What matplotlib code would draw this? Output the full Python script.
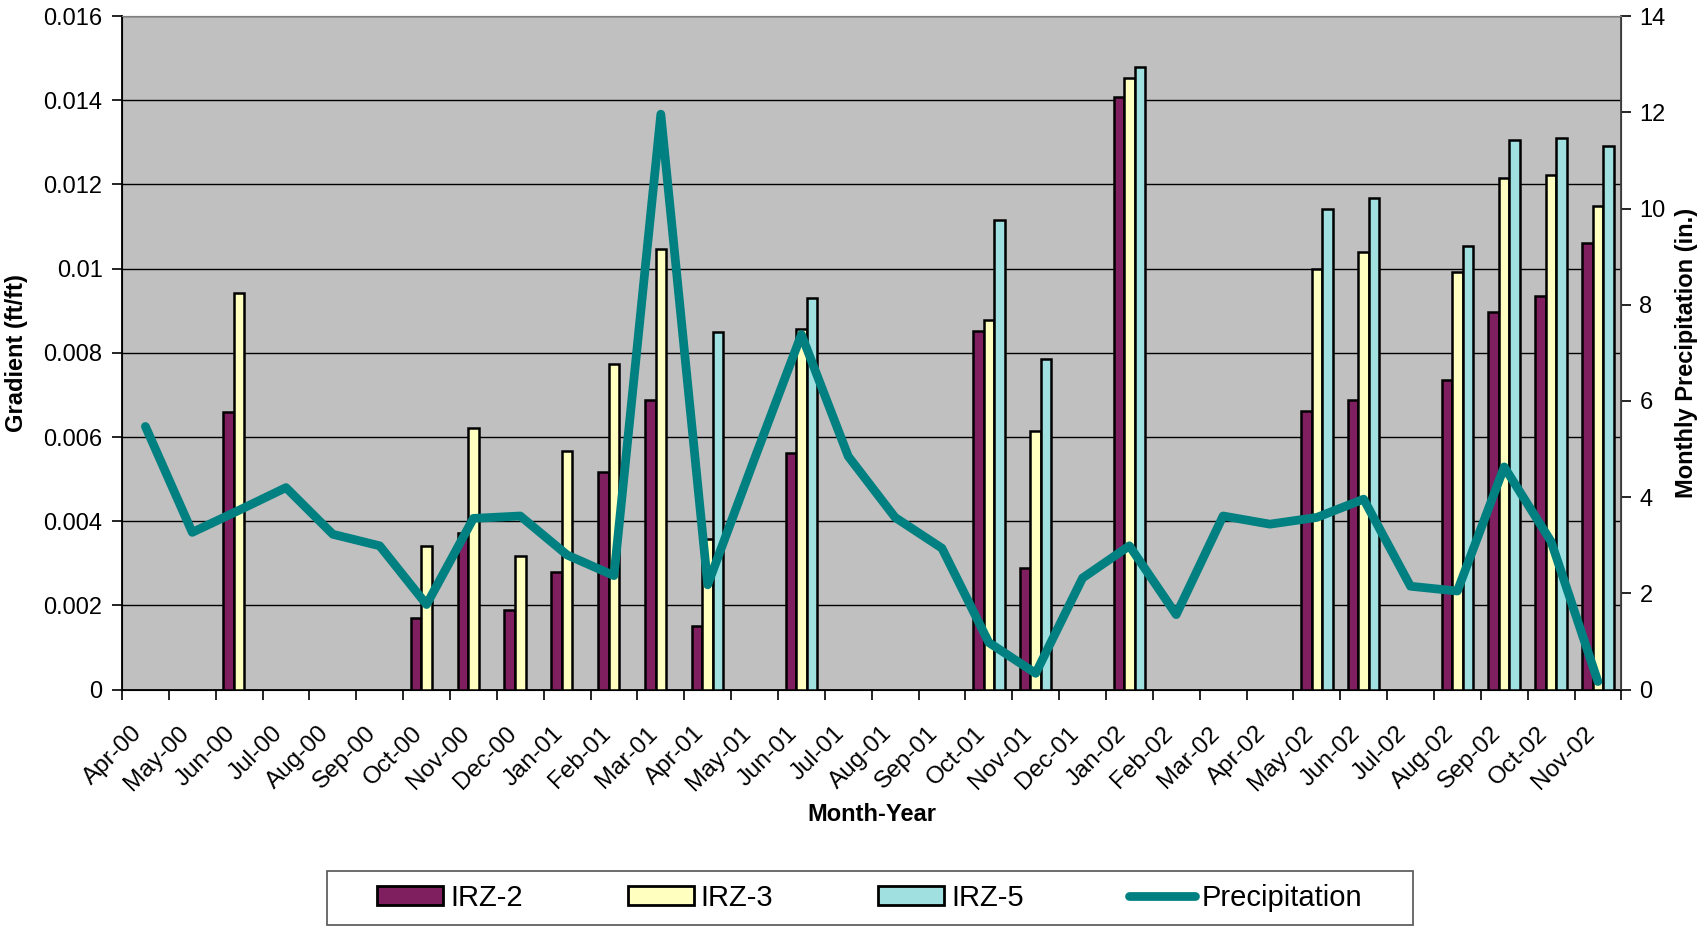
import numpy as np
import matplotlib
matplotlib.use('Agg')
import matplotlib.pyplot as plt
from matplotlib.patches import Patch, Rectangle
from matplotlib.lines import Line2D
from matplotlib.ticker import FuncFormatter
from matplotlib.transforms import ScaledTranslation

plt.rcParams['font.family'] = ['Liberation Sans', 'DejaVu Sans']

months = ['Apr-00', 'May-00', 'Jun-00', 'Jul-00', 'Aug-00', 'Sep-00', 'Oct-00', 'Nov-00',
          'Dec-00', 'Jan-01', 'Feb-01', 'Mar-01', 'Apr-01', 'May-01', 'Jun-01', 'Jul-01',
          'Aug-01', 'Sep-01', 'Oct-01', 'Nov-01', 'Dec-01', 'Jan-02', 'Feb-02', 'Mar-02',
          'Apr-02', 'May-02', 'Jun-02', 'Jul-02', 'Aug-02', 'Sep-02', 'Oct-02', 'Nov-02']

nan = np.nan
irz2 = [nan, nan, 0.00660, nan, nan, nan, 0.00170, 0.00371,
        0.00189, 0.00279, 0.00516, 0.00689, 0.00151, nan, 0.00562, nan,
        nan, nan, 0.00853, 0.00289, nan, 0.01407, nan, nan,
        nan, 0.00662, 0.00689, nan, 0.00735, 0.00898, 0.00934, 0.01062]
irz3 = [nan, nan, 0.00943, nan, nan, nan, 0.00341, 0.00621,
        0.00317, 0.00567, 0.00774, 0.01046, 0.00357, nan, 0.00856, nan,
        nan, nan, 0.00877, 0.00614, nan, 0.01453, nan, nan,
        nan, 0.00998, 0.01039, nan, 0.00991, 0.01215, 0.01223, 0.01150]
irz5 = [nan, nan, nan, nan, nan, nan, nan, nan,
        nan, nan, nan, nan, 0.00849, nan, 0.00930, nan,
        nan, nan, 0.01116, 0.00786, nan, 0.01479, nan, nan,
        nan, 0.01142, 0.01167, nan, 0.01054, 0.01305, 0.01311, 0.01292]
precip = [5.47, 3.27, 3.73, 4.20, 3.23, 2.99, 1.77, 3.56,
          3.61, 2.80, 2.37, 11.96, 2.18, 4.80, 7.38, 4.85,
          3.58, 2.94, 0.98, 0.34, 2.32, 2.99, 1.56, 3.61,
          3.44, 3.58, 3.96, 2.15, 2.05, 4.63, 3.08, 0.17]

c2 = '#7f1f5f'
c3 = '#ffffc0'
c5 = '#a0e0e0'
teal = '#008080'

fig = plt.figure(figsize=(16.99, 9.27), dpi=100)
ax = fig.add_axes([0.0718, 0.256, 0.8825, 0.7267])
ax.set_facecolor('#c0c0c0')

x = np.arange(len(months))
w = 0.225
for off, vals, col in [(-w, irz2, c2), (0, irz3, c3), (w, irz5, c5)]:
    ax.bar(x + off, vals, width=w, color=col, edgecolor='black', linewidth=1.8, zorder=3)

ax.set_xlim(-0.5, len(months) - 0.5)
ax.set_ylim(0, 0.016)
ax.set_yticks(np.arange(0, 0.0161, 0.002))
ax.yaxis.set_major_formatter(FuncFormatter(lambda v, p: '%g' % round(v, 4)))
ax.grid(axis='y', color='black', linewidth=1.0, zorder=1)
ax.set_axisbelow(True)

ax.set_xticks(x)
ax.set_xticklabels(months, rotation=45, ha='right', va='center', rotation_mode='anchor', fontsize=17.5)
ax.tick_params(axis='x', which='major', length=0, pad=29)
# nudge month labels a little left, as in the original
shift = ScaledTranslation(-7 / 100, 0, fig.dpi_scale_trans)
for lbl in ax.get_xticklabels():
    lbl.set_transform(lbl.get_transform() + shift)
ax.set_xticks(np.arange(-0.5, len(months)), minor=True)
ax.tick_params(axis='x', which='minor', length=7, width=1.2, direction='out')
ax.tick_params(axis='y', labelsize=17, length=7, width=1.2, pad=7)

ax.spines['top'].set_color('#808080')
ax.spines['left'].set_linewidth(1.3)
ax.spines['bottom'].set_linewidth(1.3)

ax.set_ylabel('Gradient (ft/ft)', fontsize=17, fontweight='bold')
ax.yaxis.set_label_coords(-0.0625, 0.5)
ax.set_xlabel('Month-Year', fontsize=17, fontweight='bold')
ax.xaxis.set_label_coords(0.5, -0.168)

ax2 = ax.twinx()
ax2.plot(x, precip, color=teal, linewidth=6.3, solid_capstyle='round', solid_joinstyle='round', zorder=5)
ax2.set_ylim(0, 14)
ax2.set_yticks(np.arange(0, 15, 2))
ax2.tick_params(axis='y', labelsize=17, length=7, width=1.2, pad=6)
ax2.spines['top'].set_color('#808080')
ax2.spines['right'].set_linewidth(1.3)
ax2.spines['right'].set_color('#404040')
ax2.set_ylabel('Monthly Precipitation (in.)', fontsize=17, fontweight='bold')
ax2.yaxis.set_label_coords(1.036, 0.5)

# legend box drawn separately so the side padding can be wider than the top/bottom
fig.patches.append(Rectangle((0.1925, 0.0022), 0.639, 0.0583, transform=fig.transFigure,
                             facecolor='white', edgecolor='#606060', linewidth=1.3))
handles = [Patch(facecolor=c2, edgecolor='black', linewidth=2, label='IRZ-2'),
           Patch(facecolor=c3, edgecolor='black', linewidth=2, label='IRZ-3'),
           Patch(facecolor=c5, edgecolor='black', linewidth=2, label='IRZ-5'),
           Line2D([0], [0], color=teal, linewidth=6.3, solid_capstyle='round', label='Precipitation')]
fig.legend(handles=handles, loc='center', bbox_to_anchor=(0.512, 0.0315), ncol=4,
           fontsize=21, frameon=False, columnspacing=3.6, handlelength=2.26,
           handleheight=0.62, handletextpad=0.24, borderpad=0, borderaxespad=0)

fig.savefig('out.png', dpi=100)
